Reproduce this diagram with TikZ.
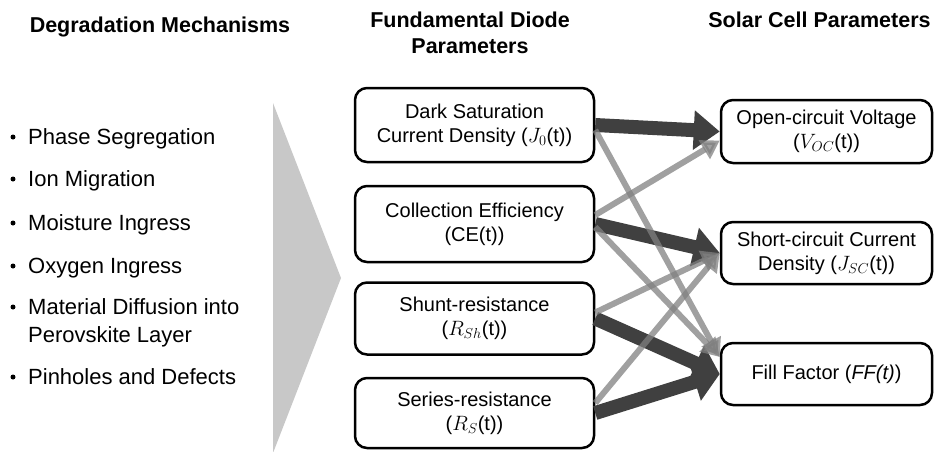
\documentclass[tikz,border=0pt]{standalone}
\usepackage{fontspec}
\setmainfont{Liberation Sans}
\usetikzlibrary{arrows.meta,calc}
\definecolor{trigray}{RGB}{200,200,200}
\definecolor{darkarr}{RGB}{64,64,64}
\definecolor{lightarr}{RGB}{128,128,128}
\begin{document}
\begin{tikzpicture}[x=1pt,y=-1pt,
  lbox/.style={draw, line width=2.5pt, rounded corners=12pt, minimum width=239pt,
    align=center, inner sep=0pt, font=\fontsize{20}{24}\selectfont},
  rbox/.style={lbox, minimum width=211pt},
  ttl/.style={font=\fontsize{21.5}{26}\selectfont\bfseries, align=center, inner sep=0pt},
  itemtxt/.style={font=\fontsize{22}{27}\selectfont, anchor=base west, inner sep=0pt},
  bul/.style={circle, fill=black, inner sep=0pt, minimum size=5pt},
  darr/.style={draw=darkarr, line width=14pt, -{Triangle[length=26pt,width=38pt]}},
  garr/.style={draw=lightarr, opacity=0.75, line width=6pt, -{Triangle[length=18pt,width=21pt]}}
]
\useasboundingbox (0,0) rectangle (934,451);

% titles
\node[ttl, anchor=base] (t1) at (160,32) {Degradation Mechanisms};
\node[ttl] (t2) at (470,33) {Fundamental Diode\\Parameters};
\node[ttl, anchor=base] (t3) at (819.5,27) {Solar Cell Parameters};

% bullet list
\node[bul] (d1) at (13,137) {};
\node[itemtxt] (i1) at (28,144) {Phase Segregation};
\node[bul] (d2) at (13,179) {};
\node[itemtxt] (i2) at (28,186) {Ion Migration};
\node[bul] (d3) at (13,223) {};
\node[itemtxt] (i3) at (28,230) {Moisture Ingress};
\node[bul] (d4) at (13,266) {};
\node[itemtxt] (i4) at (28,273) {Oxygen Ingress};
\node[bul] (d5) at (13,307) {};
\node[itemtxt] (i5) at (28,314) {Material Diffusion into};
\node[itemtxt] (i5b) at (28,342) {Perovskite Layer};
\node[bul] (d6) at (13,377) {};
\node[itemtxt] (i6) at (28,384) {Pinholes and Defects};

% big chevron
\fill[trigray] (273,103) -- (341,278) -- (273,453) -- cycle;

% diode parameter boxes
\node[lbox, minimum height=74pt] (j0) at (474.5,125) {Dark Saturation\\Current Density ($J_0$(t))};
\node[lbox, minimum height=76pt] (ce) at (474.5,224) {Collection Efficiency\\(CE(t))};
\node[lbox, minimum height=72pt] (rsh) at (474.5,318.5) {Shunt-resistance\\($R_{Sh}$(t))};
\node[lbox, minimum height=70pt] (rs) at (474.5,413) {Series-resistance\\($R_S$(t))};

% solar cell parameter boxes
\node[rbox, minimum height=63pt] (voc) at (826.5,131.5) {Open-circuit Voltage\\($V_{OC}$(t))};
\node[rbox, minimum height=62pt] (jsc) at (826.5,253) {Short-circuit Current\\Density ($J_{SC}$(t))};
\node[rbox, minimum height=62pt] (ff) at (826.5,374) {Fill Factor (\textit{FF(t)})};

% strong dependencies
\draw[darr] (j0.east) -- (voc.west);
\draw[darr] (ce.east) -- (jsc.west);
\draw[darr] (rsh.east) -- (ff.west);
\draw[darr] (rs.east) -- (ff.west);

% weak dependencies
\draw[garr] ($(j0.east)+(0,5)$) -- ($(ff.west)+(0,-17)$);
\draw[garr] ($(ce.east)+(0,-9)$) -- ($(voc.west)+(0,9)$);
\draw[garr] ($(ce.east)+(0,3)$) -- ($(ff.west)+(0,-17)$);
\draw[garr] ($(rsh.east)+(0,-6)$) -- (jsc.west);
\draw[garr] ($(rs.east)+(0,-10)$) -- (jsc.west);
\end{tikzpicture}
\end{document}
